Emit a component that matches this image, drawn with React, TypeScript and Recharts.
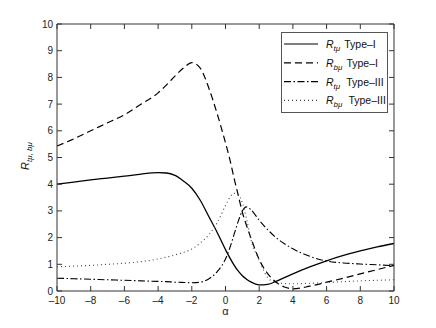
import React from 'react';
import { LineChart, Line, XAxis, YAxis } from 'recharts';

const alphas = [-10, -9, -8, -7, -6, -5, -4, -3.5, -3, -2.5, -2, -1.5, -1, -0.5, 0, 0.25, 0.5, 0.75, 1, 1.25, 1.5, 2, 2.5, 3, 3.5, 4, 5, 6, 7, 8, 9, 10];
const rtTypeI = [4.0, 4.08, 4.16, 4.23, 4.3, 4.38, 4.43, 4.42, 4.33, 4.12, 3.85, 3.4, 2.8, 2.2, 1.55, 1.25, 0.98, 0.75, 0.57, 0.44, 0.34, 0.23, 0.25, 0.36, 0.5, 0.64, 0.9, 1.13, 1.33, 1.5, 1.65, 1.78];
const rbTypeI = [5.43, 5.7, 6.0, 6.3, 6.6, 7.0, 7.42, 7.72, 8.05, 8.35, 8.55, 8.35, 7.62, 6.65, 5.55, 4.95, 4.25, 3.6, 2.95, 2.45, 2.0, 1.18, 0.65, 0.33, 0.15, 0.08, 0.18, 0.33, 0.48, 0.64, 0.8, 0.96];
const rtTypeIII = [0.48, 0.46, 0.44, 0.42, 0.4, 0.38, 0.36, 0.35, 0.33, 0.32, 0.31, 0.33, 0.45, 0.72, 1.2, 1.6, 2.1, 2.6, 3.0, 3.15, 3.05, 2.65, 2.3, 2.0, 1.77, 1.58, 1.3, 1.12, 1.05, 1.01, 0.98, 0.95];
const rbTypeIII = [0.91, 0.93, 0.96, 1.0, 1.04, 1.1, 1.2, 1.27, 1.35, 1.45, 1.57, 1.8, 2.1, 2.55, 3.2, 3.5, 3.66, 3.62, 3.3, 2.7, 1.95, 1.16, 0.5, 0.32, 0.28, 0.27, 0.29, 0.32, 0.35, 0.38, 0.4, 0.42];

const xTicks = [-10, -8, -6, -4, -2, 0, 2, 4, 6, 8, 10];
const yTicks = [0, 1, 2, 3, 4, 5, 6, 7, 8, 9, 10];

const data = alphas.map((a, i) => ({
  a,
  rt1: rtTypeI[i],
  rb1: rbTypeI[i],
  rt3: rtTypeIII[i],
  rb3: rbTypeIII[i],
}));

const FONT = 'Liberation Sans, Arial, Helvetica, sans-serif';
const fmt = (v: number) => (v < 0 ? '\u2013' + Math.abs(v) : String(v));

const DASH = '7 4';
const DASHDOT = '7 2.5 1.5 2.5';
const DOT = '1 3';
const AXIS = '#333';

const legendItems = [
  { sub: 't\u03bc', type: 'Type\u2013I', dash: undefined as string | undefined, color: '#000' },
  { sub: 'b\u03bc', type: 'Type\u2013I', dash: DASH, color: '#000' },
  { sub: 't\u03bc', type: 'Type\u2013III', dash: DASHDOT, color: '#000' },
  { sub: 'b\u03bc', type: 'Type\u2013III', dash: DOT, color: '#444' },
];

const LegendBox = () => (
  <svg width={108} height={82} style={{ display: 'block' }}>
    <rect x={0.5} y={0.5} width={106} height={80} fill="#fff" stroke="#555" strokeWidth={1} />
    {legendItems.map((it, i) => {
      const y = 12 + i * 18.8;
      return (
        <g key={i}>
          <line x1={3} x2={37} y1={y} y2={y} stroke={it.color} strokeWidth={1.2} strokeDasharray={it.dash} />
          <text x={45} y={y + 4} fontFamily={FONT} fontSize={10.5} fill="#111">
            <tspan fontStyle="italic">R</tspan>
            <tspan fontStyle="italic" fontSize={8} dy={3}>{it.sub}</tspan>
            <tspan dy={-3} dx={i >= 2 ? 6 : 4}>{it.type}</tspan>
          </text>
        </g>
      );
    })}
  </svg>
);

const YLabel = () => (
  <text transform="translate(29,156) rotate(-90)" textAnchor="middle" fontFamily={FONT} fontSize={11} fill="#111">
    <tspan fontStyle="italic">R</tspan>
    <tspan fontStyle="italic" fontSize={8} dy={3}>{'t\u03bc, b\u03bc'}</tspan>
  </text>
);

export default function App() {
  return (
    <div style={{ position: 'absolute', left: 0, top: 0, width: 436, height: 328, background: '#fff' }}>
      <LineChart width={436} height={328} data={data} margin={{ top: 4, right: 22, bottom: 7, left: 17 }}>
        <XAxis
          xAxisId="b"
          dataKey="a"
          type="number"
          domain={[-10, 10]}
          ticks={xTicks}
          tickFormatter={fmt}
          height={30}
          tickSize={-5}
          tickMargin={11}
          stroke={AXIS}
          tick={{ fill: '#222', fontSize: 10, fontFamily: FONT }}
          label={{ value: '\u03b1', position: 'insideBottom', offset: 6, fill: '#222', fontSize: 11, fontFamily: FONT }}
        />
        <XAxis
          xAxisId="t"
          orientation="top"
          dataKey="a"
          type="number"
          domain={[-10, 10]}
          ticks={xTicks}
          tickFormatter={() => ''}
          height={20}
          tickSize={-5}
          stroke={AXIS}
        />
        <YAxis
          yAxisId="l"
          type="number"
          domain={[0, 10]}
          ticks={yTicks}
          width={40}
          tickSize={-5}
          tickMargin={9}
          stroke={AXIS}
          tick={{ fill: '#222', fontSize: 10, fontFamily: FONT }}
          label={<YLabel />}
        />
        <YAxis
          yAxisId="r"
          orientation="right"
          type="number"
          domain={[0, 10]}
          ticks={yTicks}
          width={20}
          tickSize={-5}
          tickFormatter={() => ''}
          stroke={AXIS}
        />
        <Line xAxisId="t" yAxisId="r" type="monotone" dataKey="rt1" stroke="none" strokeWidth={0} dot={false} legendType="none" isAnimationActive={false} />
        <Line xAxisId="b" yAxisId="l" type="monotone" dataKey="rt1" stroke="#000" strokeWidth={1.3} dot={false} isAnimationActive={false} />
        <Line xAxisId="b" yAxisId="l" type="monotone" dataKey="rb1" stroke="#000" strokeWidth={1.2} strokeDasharray={DASH} dot={false} isAnimationActive={false} />
        <Line xAxisId="b" yAxisId="l" type="monotone" dataKey="rt3" stroke="#000" strokeWidth={1.1} strokeDasharray={DASHDOT} dot={false} isAnimationActive={false} />
        <Line xAxisId="b" yAxisId="l" type="monotone" dataKey="rb3" stroke="#444" strokeWidth={1.1} strokeDasharray={DOT} dot={false} isAnimationActive={false} />
      </LineChart>
      <div style={{ position: 'absolute', left: 281, top: 32, width: 108, height: 82 }}>
        <LegendBox />
      </div>
    </div>
  );
}
